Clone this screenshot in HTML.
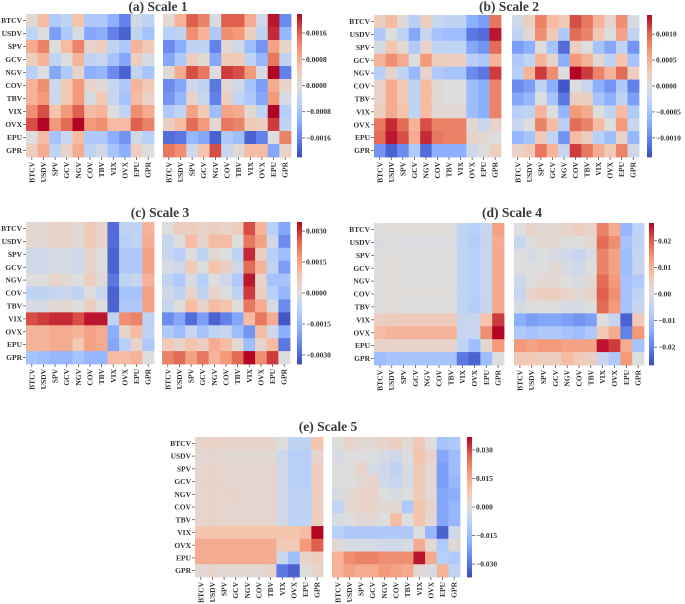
<!DOCTYPE html>
<html><head><meta charset="utf-8">
<style>
html,body{margin:0;padding:0;background:#fff;}
svg{display:block;font-family:"Liberation Serif",serif;}
</style></head>
<body>
<svg id="fig" width="685" height="604" viewBox="0 0 685 604" xmlns="http://www.w3.org/2000/svg"></svg>
<script>
const labels = ["BTCV","USDV","SPV","GCV","NGV","COV","TBV","VIX","OVX","EPU","GPR"];

// values as fractions of each panel's colour-scale maximum
const aLeft = [
[0.05,0.3,-0.3,-0.2,0.25,-0.3,-0.3,-0.5,-0.75,-0.1,-0.2],
[-0.2,0.0,-0.6,-0.3,-0.05,-0.55,-0.5,-0.75,-0.9,-0.2,-0.35],
[0.4,0.6,0.0,0.3,0.6,0.1,0.15,-0.2,-0.3,0.35,0.2],
[0.15,0.35,-0.2,0.0,0.35,-0.2,-0.15,-0.35,-0.55,0.15,-0.05],
[-0.25,0.0,-0.55,-0.3,0.1,-0.5,-0.45,-0.7,-0.9,-0.2,-0.35],
[0.35,0.55,-0.1,0.2,0.5,0.1,0.05,-0.15,-0.3,0.35,0.2],
[0.35,0.5,-0.1,0.2,0.5,-0.05,0.2,-0.15,-0.35,0.3,0.1],
[0.55,0.8,0.25,0.5,0.75,0.3,0.35,0.0,-0.2,0.55,0.4],
[0.8,1.0,0.5,0.7,1.0,0.5,0.55,0.3,0.3,0.75,0.6],
[0.0,0.3,-0.35,-0.15,0.3,-0.3,-0.3,-0.5,-0.65,-0.1,-0.25],
[0.15,0.4,-0.2,0.1,0.4,-0.2,-0.1,-0.35,-0.5,0.15,0.0]];
const aRight = [
[0.05,0.35,0.75,0.6,-0.05,0.75,0.75,0.4,-0.1,0.95,-0.7],
[-0.25,-0.2,0.55,0.35,-0.3,0.55,0.5,0.15,-0.2,0.9,-0.45],
[-0.7,-0.5,-0.2,-0.2,-0.75,0.05,-0.1,-0.4,-0.65,0.45,0.1],
[-0.55,-0.3,0.15,0.05,-0.55,0.2,0.2,-0.2,-0.45,0.65,-0.2],
[0.05,0.4,0.8,0.65,0.0,0.85,0.8,0.5,-0.05,1.0,-0.75],
[-0.7,-0.55,-0.1,-0.2,-0.8,0.05,-0.1,-0.35,-0.6,0.4,0.1],
[-0.65,-0.45,0.1,-0.15,-0.75,0.15,-0.2,-0.3,-0.55,0.5,-0.05],
[-0.3,-0.2,0.45,0.2,-0.4,0.45,0.4,0.05,-0.2,1.0,-0.25],
[0.15,0.3,0.7,0.5,0.05,0.65,0.6,0.2,0.15,0.85,-0.2],
[-0.85,-0.8,-0.45,-0.55,-0.9,-0.3,-0.4,-0.9,-0.75,0.0,0.6],
[0.65,0.55,-0.1,0.25,0.8,-0.15,0.05,0.3,0.3,-0.55,0.1]];
const bLeft = [
[0.15,0.3,0.05,-0.25,0.15,-0.15,-0.2,-0.2,-0.5,-0.6,0.65],
[-0.3,0.0,-0.2,-0.55,-0.15,-0.35,-0.4,-0.4,-0.8,-0.85,0.95],
[-0.05,0.25,0.05,-0.3,0.1,-0.2,-0.2,-0.2,-0.55,-0.65,0.7],
[0.35,0.55,0.4,0.0,0.5,0.15,0.15,0.15,-0.25,-0.3,0.35],
[-0.25,0.1,-0.2,-0.45,0.1,-0.3,-0.35,-0.35,-0.7,-0.8,0.85],
[0.1,0.4,0.2,-0.2,0.3,0.05,0.0,0.0,-0.4,-0.5,0.6],
[0.1,0.4,0.2,-0.2,0.3,0.05,0.0,0.0,-0.4,-0.5,0.6],
[0.15,0.4,0.25,-0.2,0.3,0.05,0.05,0.05,-0.4,-0.5,0.6],
[0.65,0.9,0.7,0.35,0.8,0.6,0.6,0.6,0.05,-0.15,0.1],
[0.7,0.95,0.8,0.4,0.9,0.65,0.6,0.6,0.1,0.05,0.0],
[-0.65,-0.9,-0.7,-0.3,-0.85,-0.5,-0.5,-0.5,-0.1,0.0,0.15]];
const bRight = [
[-0.1,0.15,0.6,0.3,0.2,0.8,0.65,0.35,0.1,0.55,-0.05],
[-0.2,0.05,0.55,0.2,-0.3,0.7,0.6,0.2,0.0,0.45,-0.2],
[-0.6,-0.5,0.0,-0.35,-0.85,0.15,0.0,-0.35,-0.55,-0.2,-0.65],
[-0.3,-0.2,0.35,0.1,-0.5,0.5,0.35,0.05,-0.2,0.25,-0.35],
[-0.25,0.35,0.85,0.55,0.0,1.0,0.85,0.6,0.35,0.7,0.15],
[-0.7,-0.6,-0.2,-0.5,-0.95,0.0,-0.15,-0.5,-0.65,-0.3,-0.75],
[-0.55,-0.45,0.0,-0.35,-0.8,0.15,0.15,-0.35,-0.5,-0.2,-0.6],
[-0.25,-0.2,0.35,0.0,-0.45,0.5,0.4,0.0,-0.2,0.3,-0.3],
[-0.15,0.0,0.6,0.3,-0.25,0.7,0.6,0.3,0.0,0.5,-0.15],
[-0.45,-0.35,0.2,-0.2,-0.65,0.3,0.15,-0.25,-0.4,0.1,-0.45],
[0.1,0.2,0.65,0.35,-0.15,0.85,0.65,0.4,0.2,0.6,-0.1]];
const cLeft = [
[0.05,0.05,0.1,0.1,0.05,0.2,0.1,-0.85,-0.2,-0.2,0.35],
[0.05,0.05,0.1,0.1,0.05,0.2,0.1,-0.85,-0.25,-0.2,0.4],
[-0.1,-0.1,-0.05,-0.05,-0.1,0.1,0.0,-0.9,-0.3,-0.3,0.45],
[-0.1,-0.1,-0.05,-0.05,-0.1,0.1,0.0,-0.9,-0.3,-0.3,0.45],
[0.0,0.0,0.1,0.05,0.0,0.15,0.05,-0.8,-0.2,-0.15,0.35],
[-0.2,-0.2,-0.15,-0.15,-0.2,0.0,-0.15,-0.9,-0.35,-0.35,0.45],
[-0.05,-0.05,0.05,0.05,0.0,0.15,0.0,-0.9,-0.3,-0.3,0.45],
[0.8,0.85,0.9,0.9,0.8,0.95,0.95,-0.2,0.55,0.6,-0.2],
[0.35,0.35,0.4,0.4,0.35,0.45,0.4,-0.5,0.1,0.3,-0.2],
[0.35,0.35,0.4,0.4,0.2,0.45,0.4,-0.55,-0.25,0.1,-0.3],
[-0.35,-0.4,-0.45,-0.45,-0.35,-0.45,-0.45,0.3,0.3,0.35,0.0]];
const cRight = [
[0.0,0.15,0.15,0.1,0.15,0.1,0.15,0.8,0.35,-0.25,-0.55],
[-0.15,0.0,0.3,0.1,0.3,0.3,0.0,0.65,0.45,-0.1,-0.7],
[-0.15,-0.25,0.0,-0.2,0.05,0.0,-0.2,0.9,0.15,-0.25,-0.4],
[-0.05,-0.1,0.2,0.0,0.25,0.15,-0.1,0.7,0.35,-0.2,-0.6],
[-0.2,-0.3,-0.05,-0.25,0.0,-0.1,-0.3,0.95,0.1,-0.35,-0.35],
[-0.1,-0.2,0.1,-0.2,0.1,0.0,-0.2,0.85,0.15,-0.25,-0.45],
[-0.15,0.0,0.3,0.1,0.3,0.25,0.0,0.65,0.4,-0.05,-0.7],
[-0.7,-0.55,-0.85,-0.6,-0.9,-0.75,-0.55,0.3,0.65,0.4,-0.95],
[-0.3,-0.4,-0.15,-0.35,-0.2,-0.15,-0.4,-0.65,0.3,-0.1,-0.5],
[0.2,0.1,0.25,0.15,0.4,0.3,0.05,-0.4,0.1,0.3,-0.8],
[0.6,0.7,0.45,0.65,0.35,0.5,0.7,1.0,0.55,0.85,0.0]];
const dLeft = [
[0,0.03,0.02,0.02,0.02,0.02,0.02,-0.2,-0.25,-0.15,0.45],
[-0.03,0,-0.02,-0.02,-0.02,-0.02,-0.02,-0.2,-0.28,-0.15,0.4],
[0,0.02,0,0,0,0,0,-0.2,-0.25,-0.15,0.42],
[0,0.02,0,0,0,0,0,-0.2,-0.25,-0.15,0.42],
[0,0.02,0,0,0,0,0,-0.2,-0.25,-0.15,0.42],
[0,0.03,0.02,0.02,0.02,0.02,0.02,-0.2,-0.25,-0.15,0.42],
[0,0.02,0,0,0,0,0,-0.2,-0.27,-0.15,0.42],
[0.15,0.18,0.18,0.18,0.18,0.18,0.18,-0.15,-0.15,0.25,0.85],
[0.3,0.35,0.35,0.35,0.35,0.35,0.35,-0.15,-0.15,0.55,1.0],
[0.1,0.1,0.1,0.1,0.1,0.1,0.1,-0.2,-0.4,0.05,0.5],
[-0.4,-0.35,-0.35,-0.35,-0.35,-0.35,-0.35,-0.8,-0.9,-0.4,0.0]];
const dRight = [
[0,0.1,0.05,0.05,0.1,0.15,0.1,0.6,0.4,-0.45,-0.2],
[-0.15,0,0.05,0.05,0,0,0.05,0.7,0.55,-0.35,-0.2],
[0,-0.05,0,-0.05,-0.1,-0.15,-0.05,0.6,0.45,-0.4,-0.15],
[0,0,0,0.05,-0.05,-0.1,0,0.6,0.45,-0.4,-0.15],
[-0.1,0,0.05,0.05,0,-0.05,0.05,0.7,0.5,-0.35,-0.3],
[-0.15,0.1,0.15,0.15,0.1,0.05,0.1,0.75,0.55,-0.35,-0.2],
[-0.05,0,0,0,-0.05,-0.05,0,0.7,0.5,-0.35,-0.15],
[-0.5,-0.6,-0.55,-0.55,-0.6,-0.65,-0.6,0.0,-0.15,-0.9,0.2],
[-0.3,-0.35,-0.3,-0.3,-0.35,-0.4,-0.3,0.2,0.4,-0.75,0.5],
[0.5,0.45,0.5,0.5,0.45,0.45,0.45,0.95,0.85,0.4,-0.35],
[0.2,0.2,0.15,0.15,0.3,0.2,0.15,-0.15,-0.3,0.5,0.0]];
const eLeft = [
[0.1,0.12,0.1,0.1,0.1,0.1,0.1,0,-0.2,-0.2,0.25],
[0.05,0.08,0.05,0.05,0.05,0.05,0.05,-0.1,-0.25,-0.25,0.1],
[0.08,0.1,0.08,0.08,0.08,0.08,0.08,-0.08,-0.25,-0.25,0.15],
[0.08,0.1,0.08,0.08,0.08,0.08,0.08,-0.08,-0.25,-0.25,0.15],
[0.08,0.1,0.08,0.1,0.08,0.08,0.08,-0.08,-0.22,-0.22,0.15],
[0.08,0.1,0.08,0.08,0.08,0.08,0.08,-0.08,-0.22,-0.22,0.15],
[0.08,0.1,0.08,0.08,0.08,0.08,0.08,-0.08,-0.22,-0.22,0.15],
[0.25,0.25,0.25,0.25,0.25,0.25,0.25,0.25,0.25,0.3,1.0],
[0.4,0.4,0.4,0.4,0.4,0.4,0.4,0.2,0.2,0.5,0.75],
[0.4,0.4,0.4,0.4,0.4,0.4,0.4,-0.15,-0.4,0.1,0.15],
[0.05,0.1,0.05,0.05,0.05,0.05,0.1,-0.8,-0.9,0,0.1]];
const eRight = [
[0,0.1,0.05,0.05,0.1,0.15,0.05,0.2,0,-0.35,-0.3],
[-0.05,0,0,0,-0.05,-0.1,0,0.25,0.1,-0.55,-0.4],
[0,0,0.1,-0.05,-0.1,-0.2,-0.05,0.2,0.05,-0.6,-0.4],
[0,0,0.05,0.1,-0.1,-0.15,-0.05,0.2,0.05,-0.6,-0.45],
[-0.05,0.05,0.1,0.1,0,-0.05,0,0.2,0.05,-0.55,-0.5],
[-0.2,0.05,0.1,0.1,0.05,0.05,-0.3,0.25,0.1,-0.55,-0.45],
[-0.05,0,0.05,0.05,0,0.3,0,0.25,0.05,-0.55,-0.45],
[-0.25,-0.3,-0.3,-0.3,-0.3,-0.3,-0.3,0,-0.45,-0.9,-0.1],
[0.05,-0.05,-0.05,-0.05,-0.1,-0.1,-0.05,0.4,0.05,-0.3,0.05],
[0.35,0.55,0.6,0.6,0.55,0.55,0.55,0.95,0.4,-0.25,-0.3],
[0.35,0.45,0.4,0.4,0.5,0.45,0.4,0.05,-0.05,0.35,-0.2]];

const titles = ["(a) Scale 1","(b) Scale 2","(c) Scale 3","(d) Scale 4","(e) Scale 5"];
const vmaxes = [0.00218,0.00137,0.00344,0.0267,0.0368];
const tickVals = [[0.0016,0.0008,0,-0.0008,-0.0016],[0.0010,0.0005,0,-0.0005,-0.0010],[0.0030,0.0015,0,-0.0015,-0.0030],[0.02,0.01,0,-0.01,-0.02],[0.030,0.015,0,-0.015,-0.030]];
const tickDigits = [4,4,4,2,3];
const matrices = [[aLeft,aRight],[bLeft,bRight],[cLeft,cRight],[dLeft,dRight],[eLeft,eRight]];

// layout (not data)
const layout = [
 {L:26,R:163,w:128,y:14,h:143,cb:297,tx:158,ty:11},
 {L:374,R:512,w:127,y:15,h:142,cb:647,tx:509,ty:11},
 {L:26,R:162,w:128,y:222,h:142,cb:297,tx:160,ty:217},
 {L:374,R:514,w:130,y:223,h:142,cb:649,tx:512,ty:217},
 {L:195,R:332,w:128,y:437,h:140,cb:467,tx:328,ty:431}];

const anchors=[[59,76,192],[98,130,234],[141,176,254],[184,208,249],[221,221,221],[245,196,173],[244,154,123],[222,96,77],[180,4,38]];
function cmap(f){ // f in [-1,1]
  let t=Math.max(0,Math.min(1,(f+1)/2))*8;
  let i=Math.min(7,Math.floor(t)),u=t-i;
  const a=anchors[i],b=anchors[i+1];
  return `rgb(${Math.round(a[0]+(b[0]-a[0])*u)},${Math.round(a[1]+(b[1]-a[1])*u)},${Math.round(a[2]+(b[2]-a[2])*u)})`;
}
const NS="http://www.w3.org/2000/svg";
const svg=document.getElementById('fig');
function mk(tag,attrs,parent){const e=document.createElementNS(NS,tag);for(const k in attrs)e.setAttribute(k,attrs[k]);(parent||svg).appendChild(e);return e;}

layout.forEach((lay,p)=>{
  const g=mk('g',{});
  
  
  const t=mk('text',{x:lay.tx,y:lay.ty,'text-anchor':'middle','font-size':'13.5','font-weight':'bold',fill:'#3a3a3a'},g);
  t.textContent=titles[p];
  
  
  const n=labels.length, cw=lay.w/n, ch=lay.h/n;
  [lay.L,lay.R].forEach((x0,side)=>{
    const hm=mk('g',{},g);
    
    
    const M=matrices[p][side];
    for(let r=0;r<n;r++)for(let c=0;c<n;c++){
      const rc=mk('rect',{x:x0+c*cw,y:lay.y+r*ch,width:cw+0.4,height:ch+0.4,fill:cmap(M[r][c])},hm);
      
      
    }
    labels.forEach((lb,i)=>{
      const cx=x0+(i+0.5)*cw, by=lay.y+lay.h;
      mk('line',{x1:cx,x2:cx,y1:by,y2:by+3,stroke:'#444','stroke-width':0.7},hm);
      const tx=mk('text',{x:0,y:0,transform:`translate(${cx+2.5},${by+5}) rotate(-90)`,'text-anchor':'end','font-size':'7.5','font-weight':'bold',fill:'#333'},hm);
      tx.textContent=lb;
      
      
      if(side===0){
        const cy=lay.y+(i+0.5)*ch;
        mk('line',{x1:x0-3,x2:x0,y1:cy,y2:cy,stroke:'#444','stroke-width':0.7},hm);
        const ty=mk('text',{x:x0-4,y:cy+2.6,'text-anchor':'end','font-size':'7.5','font-weight':'bold',fill:'#333'},hm);
        ty.textContent=lb;
        
        
      }
    });
  });
  // colorbar
  const cbg=mk('g',{},g);
  
  
  const steps=60;
  for(let s=0;s<steps;s++){
    const f=1-2*(s+0.5)/steps;
    mk('rect',{x:lay.cb,y:lay.y+s*lay.h/steps,width:5,height:lay.h/steps+0.4,fill:cmap(f)},cbg);
  }
  const vmax=vmaxes[p];
  tickVals[p].forEach(v=>{
    const yy=lay.y+lay.h/2-(v/vmax)*lay.h/2;
    mk('line',{x1:lay.cb+5,x2:lay.cb+8,y1:yy,y2:yy,stroke:'#444','stroke-width':0.7},cbg);
    const tl=mk('text',{x:lay.cb+9,y:yy+2.5,'font-size':'7.5','font-weight':'bold',fill:'#333'},cbg);
    tl.textContent=(v<0?'\u2212':'')+Math.abs(v).toFixed(tickDigits[p]);
    
    
  });
});
</script>
</body></html>
